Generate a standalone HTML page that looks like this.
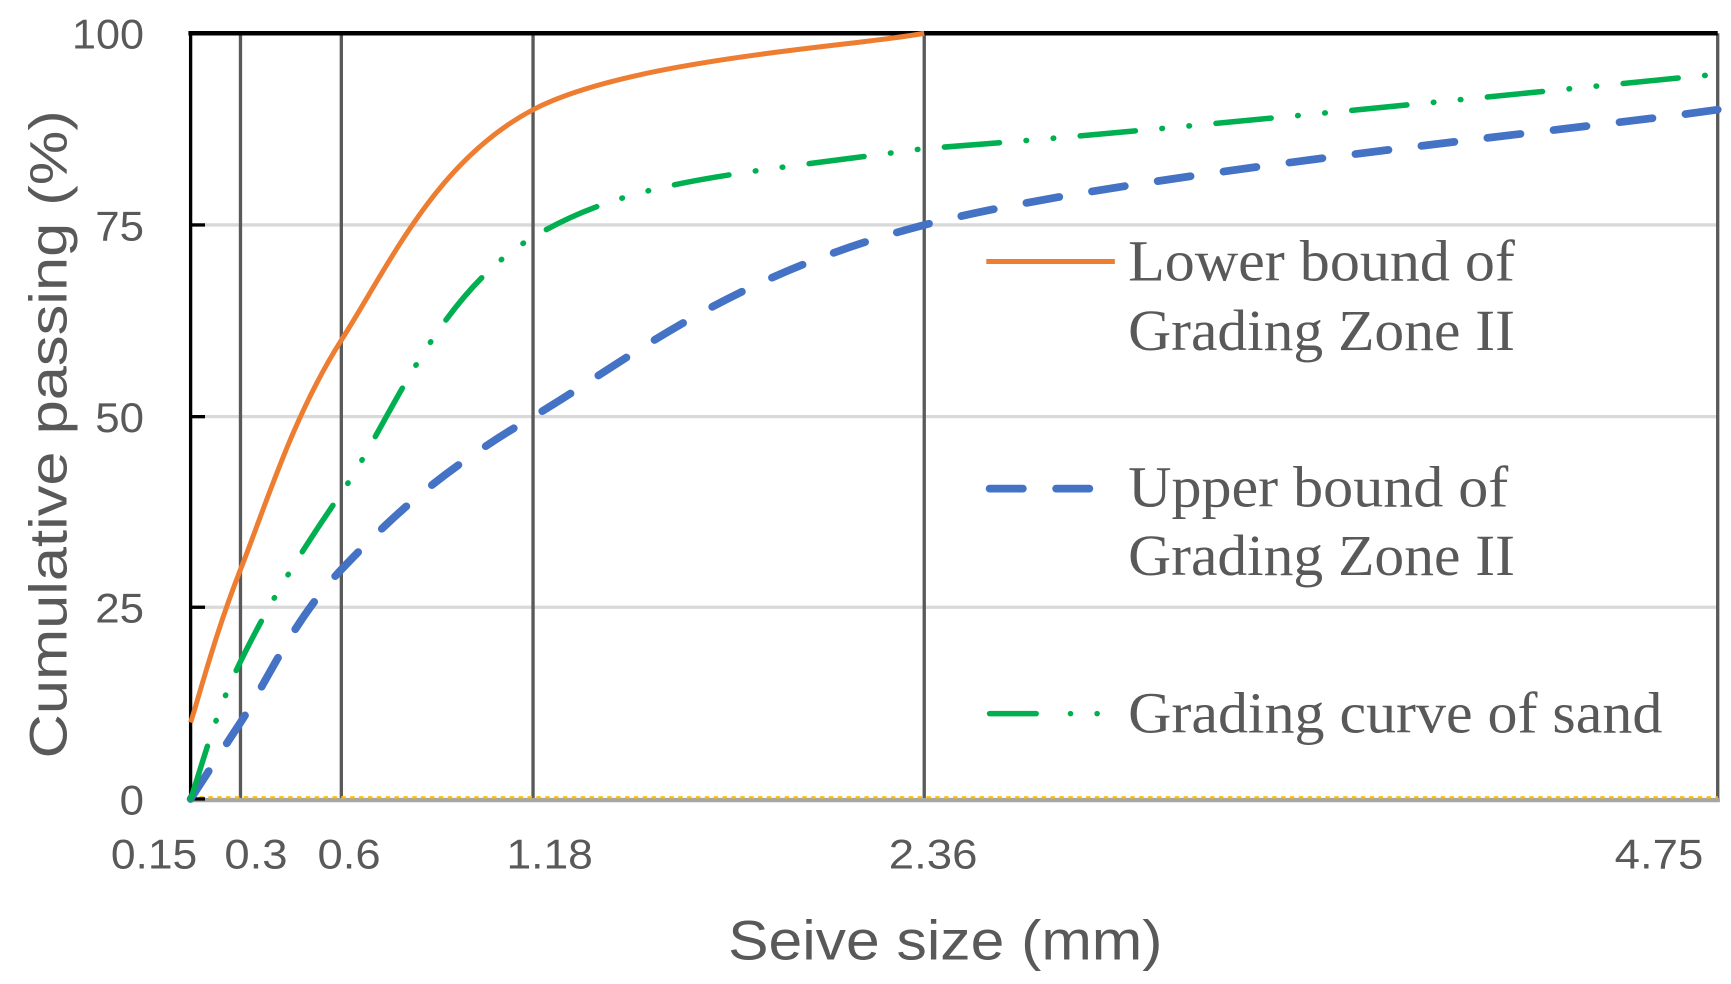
<!DOCTYPE html>
<html><head><meta charset="utf-8"><style>
html,body{margin:0;padding:0;background:#fff;}
svg{display:block;}
</style></head><body>
<svg width="1731" height="984" viewBox="0 0 1562 888" preserveAspectRatio="none" xmlns="http://www.w3.org/2000/svg">
<rect width="1562" height="888" fill="#fff"/>
<g stroke="#d9d9d9" stroke-width="3">
<line x1="172" y1="203" x2="1550" y2="203"/>
<line x1="172" y1="376" x2="1550" y2="376"/>
<line x1="172" y1="548" x2="1550" y2="548"/>
</g>
<g stroke="#595959" stroke-width="3">
<line x1="217" y1="30" x2="217" y2="721"/>
<line x1="308" y1="30" x2="308" y2="721"/>
<line x1="481" y1="30" x2="481" y2="721"/>
<line x1="834" y1="30" x2="834" y2="721"/>
<line x1="1550" y1="30" x2="1550" y2="721"/>
</g>
<line x1="172" y1="722" x2="1552" y2="722" stroke="#a6a6a6" stroke-width="4"/>
<line x1="172" y1="719.5" x2="1550" y2="719.5" stroke="#ffc000" stroke-width="2" stroke-dasharray="4 4"/>
<line x1="170" y1="30" x2="1550" y2="30" stroke="#000" stroke-width="4"/>
<line x1="172" y1="29" x2="172" y2="723" stroke="#000" stroke-width="3"/>
<g stroke="#000" stroke-width="3">
<line x1="172" y1="203" x2="185" y2="203"/>
<line x1="172" y1="376" x2="185" y2="376"/>
<line x1="172" y1="548" x2="185" y2="548"/>
<line x1="172" y1="721" x2="185" y2="721"/>
</g>
<path d="M172,652 C179.5,629 194.3,571.5 217,514 C239.7,456.5 264,376.2 308,307 C352,237.8 393.3,145.2 481,99 C568.7,52.8 775.2,41.5 834,30" fill="none" stroke="#ed7d31" stroke-width="4.5"/>
<path d="M172,721 C179.5,709.5 194.3,686.5 217,652 C239.7,617.5 264,560 308,514 C352,468 393.3,427.8 481,376 C568.7,324.2 655.8,249.2 834,203 C1012.2,156.8 1430.7,116.3 1550,99" fill="none" stroke="#4472c4" stroke-width="7" stroke-linecap="round" stroke-dasharray="30 30"/>
<path d="M172,721 C179.5,700.3 194.3,643 217,597 C239.7,551 264,508.8 308,445 C352,381.2 393.3,265.8 481,214 C568.7,162.2 655.8,158.5 834,134 C1012.2,121.8 1430.7,78.2 1550,67" fill="none" stroke="#00b050" stroke-width="5" stroke-linecap="round" stroke-dasharray="50 24 0.5 24 0.5 24"/>
<g font-family="Liberation Sans, sans-serif" font-size="38" fill="#595959" text-anchor="end" lengthAdjust="spacingAndGlyphs">
<text x="130" y="44" textLength="65" lengthAdjust="spacingAndGlyphs">100</text>
<text x="130" y="217" textLength="44" lengthAdjust="spacingAndGlyphs">75</text>
<text x="130" y="390" textLength="44" lengthAdjust="spacingAndGlyphs">50</text>
<text x="130" y="562" textLength="44" lengthAdjust="spacingAndGlyphs">25</text>
<text x="130" y="735" textLength="22" lengthAdjust="spacingAndGlyphs">0</text>
</g>
<g font-family="Liberation Sans, sans-serif" font-size="38" fill="#595959" text-anchor="middle">
<text x="139" y="784" textLength="78" lengthAdjust="spacingAndGlyphs">0.15</text>
<text x="231" y="784" textLength="57" lengthAdjust="spacingAndGlyphs">0.3</text>
<text x="315" y="784" textLength="57" lengthAdjust="spacingAndGlyphs">0.6</text>
<text x="496" y="784" textLength="78" lengthAdjust="spacingAndGlyphs">1.18</text>
<text x="842" y="784" textLength="80" lengthAdjust="spacingAndGlyphs">2.36</text>
<text x="1497" y="784" textLength="80" lengthAdjust="spacingAndGlyphs">4.75</text>
</g>
<text x="853" y="866" font-family="Liberation Sans, sans-serif" font-size="50" fill="#595959" text-anchor="middle" textLength="392" lengthAdjust="spacingAndGlyphs">Seive size (mm)</text>
<text transform="translate(60,392) rotate(-90)" font-family="Liberation Sans, sans-serif" font-size="48" fill="#595959" text-anchor="middle" textLength="585" lengthAdjust="spacingAndGlyphs">Cumulative passing (%)</text>
<line x1="890" y1="236" x2="1006" y2="236" stroke="#ed7d31" stroke-width="4.5"/>
<line x1="893" y1="441" x2="1000" y2="441" stroke="#4472c4" stroke-width="7" stroke-linecap="round" stroke-dasharray="30 30"/>
<line x1="893" y1="644" x2="935" y2="644" stroke="#00b050" stroke-width="5" stroke-linecap="round"/>
<circle cx="966" cy="644" r="2.5" fill="#00b050"/>
<circle cx="990" cy="644" r="2.5" fill="#00b050"/>
<g font-family="Liberation Serif, serif" font-size="53" fill="#595959">
<text x="1018" y="253" textLength="349" lengthAdjust="spacingAndGlyphs">Lower bound of</text>
<text x="1018" y="316" textLength="349" lengthAdjust="spacingAndGlyphs">Grading Zone II</text>
<text x="1018" y="457" textLength="343" lengthAdjust="spacingAndGlyphs">Upper bound of</text>
<text x="1018" y="519" textLength="349" lengthAdjust="spacingAndGlyphs">Grading Zone II</text>
<text x="1018" y="661" textLength="482" lengthAdjust="spacingAndGlyphs">Grading curve of sand</text>
</g>
</svg>
</body></html>
